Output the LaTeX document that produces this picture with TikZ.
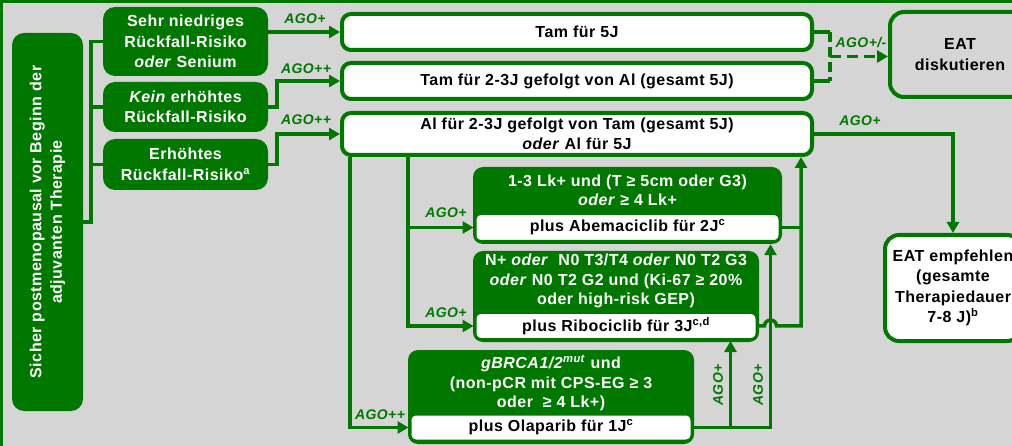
\documentclass[tikz,border=0pt]{standalone}
\usepackage{fontspec}
\setmainfont{Liberation Sans}[LetterSpace=3]
\usetikzlibrary{arrows.meta,calc}

\definecolor{mgrn}{RGB}{0, 120, 0}
\definecolor{mgry}{RGB}{213, 213, 213}

\begin{document}
\begin{tikzpicture}[x=1pt, y=-1pt,
		every node/.style={font=\fontsize{16}{20.5}\selectfont\bfseries, align=center, inner sep=0pt},
		gbox/.style={fill=mgrn, text=white, rounded corners=12pt},
		wbox/.style={draw=mgrn, line width=4pt, fill=white, rounded corners=9pt},
		pbox/.style={draw=mgrn, line width=3pt, fill=white, rounded corners=6pt},
		hdr/.style={text=white, font=\fontsize{16}{19.5}\selectfont\bfseries},
		conn/.style={draw=mgrn, line width=3.5pt},
		arr/.style={conn, -{Triangle[length=11pt,width=12pt]}},
		ago/.style={text=mgrn, font=\fontsize{14}{16}\selectfont\bfseries\itshape}]

			% --- Frame ---
			\useasboundingbox (0,0) rectangle (1012,446);
			\clip (0,0) rectangle (1012,446);
			\fill[mgry] (0,0) rectangle (1012,446);
			\draw[mgrn, line width=3pt] (1.5,446) -- (1.5,1.5) -- (1012,1.5);

			% --- Start and risk groups ---
			\node[gbox, rotate=90, minimum width=378pt, minimum height=71pt] (start) at (47.5,222)
				{Sicher postmenopausal vor Beginn der\\adjuvanten Therapie};
			\node[gbox, minimum width=165pt, minimum height=69pt] (r1) at (185.5,41.5)
				{Sehr niedriges\\Rückfall-Risiko\\\textit{oder} Senium};
			\node[gbox, minimum width=165pt, minimum height=50pt] (r2) at (185.5,107)
				{\textit{Kein} erhöhtes\\Rückfall-Risiko};
			\node[gbox, minimum width=165pt, minimum height=51pt] (r3) at (185.5,164.5)
				{Erhöhtes\\Rückfall-Risiko\textsuperscript{a}};

			\draw[conn] (start.south) -| ($(r1.west)+(-12,0)$) -- (r1.west);
			\draw[conn] ($(r2.west)+(-12,0)$) -- (r2.west);
			\draw[conn] ($(r3.west)+(-12,0)$) -- (r3.west);

			% --- Endocrine therapy ---
			\node[wbox, minimum width=470pt, minimum height=36pt] (t1) at (577,32) {Tam für 5J};
			\node[wbox, minimum width=470pt, minimum height=36pt] (t2) at (577,81)
				{Tam für 2-3J gefolgt von Al (gesamt 5J)};
			\node[wbox, minimum width=470pt, minimum height=42pt] (t3) at (577,134)
				{Al für 2-3J gefolgt von Tam (gesamt 5J)\\\textit{oder} Al für 5J};

			\draw[arr] (r1.east |- t1.west) -- (t1.west);
			\draw[arr] (r2.east) -- ++(9,0) |- (t2.west);
			\draw[arr] (r3.east) -- ++(9,0) |- (t3.west);
			\node[ago] (l1) at (305,19) {AGO+};
			\node[ago] (l2) at (306,69) {AGO++};
			\node[ago] (l3) at (306,120) {AGO++};

			% --- EAT ---
			\node[wbox, fill=mgry, rounded corners=14pt, minimum width=140pt, minimum height=85pt] (eat1) at (960,54.5)
				{EAT\\diskutieren};
			\node[wbox, rounded corners=14pt, minimum width=136pt, minimum height=106pt] (eat2) at (953,288)
				{EAT empfehlen\\(gesamte\\Therapiedauer\\7-8 J)\textsuperscript{b}};

			\coordinate (dj) at ($(t1.east)!0.5!(t2.east)+(16,0)$);
			\draw[conn] (t1.east) -- (t1.east -| dj);
			\draw[conn] (t2.east) -- (t2.east -| dj);
			\draw[conn, dash pattern=on 10pt off 5pt] (t1.east -| dj) -- (t2.east -| dj);
			\draw[arr, dash pattern=on 11pt off 6pt] (dj) -- (dj -| eat1.west);
			\node[ago] (l4) at (861,43) {AGO+/-};

			\draw[arr] (t3.east) -| (eat2.north);
			\node[ago] (l5) at (860,121) {AGO+};

			% --- Add-on therapies ---
			\node[gbox, rounded corners=10pt, minimum width=309pt, minimum height=77pt] (g1) at (627.5,205.5) {};
			\node[hdr] (h1) at (627.5,190.5) {1-3 Lk+ und (T ≥ 5cm oder G3)\\\textit{oder} ≥ 4 Lk+};
			\node[pbox, minimum width=305pt, minimum height=28pt] (p1) at (627.5,227.5)
				{plus Abemaciclib für 2J\textsuperscript{c}};

			\node[gbox, rounded corners=10pt, minimum width=286pt, minimum height=91pt] (g2) at (616,296.5) {};
			\node[hdr] (h2) at (616,281)
				{N+ \textit{oder}~ N0 T3/T4 \textit{oder} N0 T2 G3\\\textit{oder} N0 T2 G2 und (Ki-67 ≥ 20\%\\oder high-risk GEP)};
			\node[pbox, minimum width=282pt, minimum height=27pt] (p2) at (616,326)
				{plus Ribociclib für 3J\textsuperscript{c,d}};

			\node[gbox, rounded corners=10pt, minimum width=286pt, minimum height=94pt] (g3) at (551,397) {};
			\node[hdr] (h3) at (551,383)
				{\textit{gBRCA1/2}\textsuperscript{\textit{mut}} und\\(non-pCR mit CPS-EG ≥ 3\\oder~ ≥ 4 Lk+)};
			\node[pbox, minimum width=282pt, minimum height=27pt] (p3) at (551,427.5)
				{plus Olaparib für 1J\textsuperscript{c}};

			% from Al box down
			\coordinate (a1) at ($(t3.south west)+(10,0)$);
			\coordinate (a2) at ($(t3.south west)+(68,0)$);
			\draw[arr] (a1) |- (p3.west);
			\draw[arr] (a2) |- (p2.west);
			\draw[arr] (a2 |- p1.west) -- (p1.west);
			\node[ago] (l6) at (446,213) {AGO+};
			\node[ago] (l7) at (446,313) {AGO+};
			\node[ago] (l8) at (380,415) {AGO++};

			% back up to Al box
			\coordinate (b1) at ($(t3.south east)+(-13,0)$);
			\coordinate (v1) at ($(p3.east)+(37,0)$);
			\coordinate (v2) at ($(p3.east)+(77,0)$);
			\draw[arr] (p3.east) -| (v2 |- g1.south);
			\draw[arr] (v1) -- (v1 |- p2.south);
			\draw[conn] (p1.east) -- (p1.east -| b1);
			\draw[arr] (p2.east) -- ($(v2 |- p2.east)+(-6,0)$) arc[start angle=180, end angle=360, radius=6] -| (b1);
			\node[ago, rotate=90] (l9) at (718,385) {AGO+};
			\node[ago, rotate=90] (l10) at (758,385) {AGO+};

		\end{tikzpicture}
\end{document}
